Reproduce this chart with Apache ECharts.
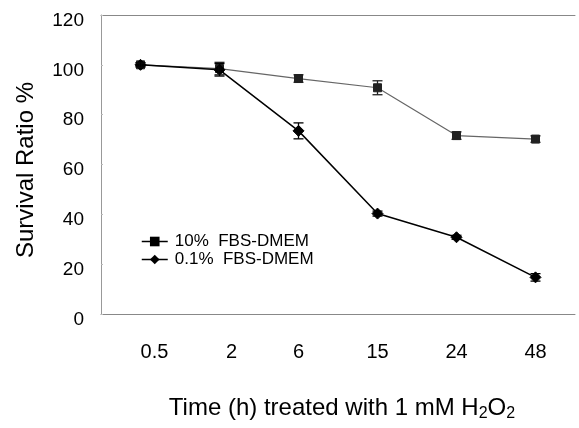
<!DOCTYPE html>
<html>
<head>
<meta charset="utf-8">
<script src="https://cdn.jsdelivr.net/npm/echarts@6/dist/echarts.min.js"></script>
<style>html,body{margin:0;padding:0;background:#fff}#c{width:579px;height:428px}</style>
</head>
<body>
<div id="c"></div>
<script>
const categories = ['0.5', '2', '6', '15', '24', '48'];
const yTicks = [0, 20, 40, 60, 80, 100, 120];
const seriesNames = ['10%  FBS-DMEM', '0.1%  FBS-DMEM'];
const fbs10 = [100, 98.5, 94.5, 90.8, 71.6, 70.2];
const fbs10Err = [0.8, 2.5, 1.5, 2.8, 1.5, 1.3];
const fbs01 = [100, 98, 73.5, 40.3, 30.8, 14.7];
const fbs01Err = [0.8, 2.5, 3.2, 1.0, 0.8, 1.5];
const xTitle = 'Time (h) treated with 1 mM H{sub|2}O{sub|2}';
const yTitle = 'Survival Ratio %';

const chart = echarts.init(document.getElementById('c'), null, {renderer: 'canvas'});
const FONT = 'Liberation Sans, Arial, sans-serif';

function errSeries(vals, errs, color, z) {
  return {
    type: 'custom',
    silent: true,
    z: z,
    data: vals.map((v, i) => [i, v - errs[i], v + errs[i]]),
    renderItem: function (params, api) {
      const x = api.value(0);
      const lo = api.coord([x, api.value(1)]);
      const hi = api.coord([x, api.value(2)]);
      const hw = 5;
      const st = {stroke: color, lineWidth: 1.3};
      return {
        type: 'group',
        children: [
          {type: 'line', shape: {x1: lo[0], y1: lo[1], x2: hi[0], y2: hi[1]}, style: st},
          {type: 'line', shape: {x1: lo[0] - hw, y1: lo[1], x2: lo[0] + hw, y2: lo[1]}, style: st},
          {type: 'line', shape: {x1: hi[0] - hw, y1: hi[1], x2: hi[0] + hw, y2: hi[1]}, style: st}
        ]
      };
    }
  };
}

chart.setOption({
  animation: false,
  backgroundColor: '#fff',
  textStyle: {fontFamily: FONT},
  grid: {left: 101, right: 4, top: 15, bottom: 114},
  legend: {
    orient: 'vertical',
    left: 136,
    top: 228,
    itemGap: 1,
    itemWidth: 26,
    itemHeight: 12,
    textStyle: {fontFamily: FONT, fontSize: 17, color: '#000', padding: [0, 0, 0, 2]},
    data: [
      {name: seriesNames[0], itemStyle: {color: '#000', borderColor: '#000'}, lineStyle: {color: '#000', width: 1.5}},
      {name: seriesNames[1], itemStyle: {color: '#000', borderColor: '#000'}, lineStyle: {color: '#000', width: 1.5}}
    ]
  },
  graphic: [
    {
      type: 'text',
      x: 26, y: 170,
      rotation: Math.PI / 2,
      style: {text: yTitle, font: '24px ' + FONT, fill: '#000', align: 'center', verticalAlign: 'middle'}
    },
    {
      type: 'text',
      x: 342, y: 408,
      style: {
        text: xTitle, fill: '#000', align: 'center', verticalAlign: 'middle',
        fontFamily: FONT, fontSize: 24,
        rich: {sub: {fontFamily: FONT, fontSize: 16, fill: '#000', padding: [11, 0, 0, 0]}}
      }
    }
  ],
  xAxis: [{
    type: 'category',
    data: categories,
    boundaryGap: true,
    axisLine: {lineStyle: {color: '#888', width: 1}},
    axisTick: {show: false},
    axisLabel: {
      fontFamily: FONT, fontSize: 20, color: '#000', margin: 28,
      formatter: (v, i) => i === 0 ? '{a|' + v + '}' : (i === 1 ? '{b|' + v + '}' : v),
      rich: {
        a: {fontFamily: FONT, fontSize: 20, color: '#000', padding: [0, 0, 0, 28]},
        b: {fontFamily: FONT, fontSize: 20, color: '#000', padding: [0, 0, 0, 24]}
      }
    }
  }, {
    type: 'category',
    data: categories,
    position: 'top',
    axisLine: {show: true, lineStyle: {color: '#888', width: 1}},
    axisTick: {show: false},
    axisLabel: {show: false}
  }],
  yAxis: {
    type: 'value',
    min: 0,
    max: 120,
    interval: 20,
    axisLine: {show: true, lineStyle: {color: '#999', width: 1}},
    axisTick: {show: true, inside: true, length: 2, lineStyle: {color: '#bbb'}},
    splitLine: {show: false},
    axisLabel: {fontFamily: FONT, fontSize: 19, color: '#000', margin: 17,
      formatter: v => yTicks.includes(v) ? '{v|' + v + '}' : '',
      rich: {v: {fontFamily: FONT, fontSize: 19, color: '#000', padding: [11, 0, 0, 0]}}
    }
  },
  series: [
    {
      name: seriesNames[0],
      type: 'line',
      data: fbs10,
      symbol: 'rect',
      symbolSize: 8,
      z: 3,
      lineStyle: {color: '#666', width: 1.2},
      itemStyle: {color: '#222', borderColor: '#222'},
      emphasis: {disabled: true}
    },
    {
      name: seriesNames[1],
      type: 'line',
      data: fbs01,
      symbol: 'diamond',
      symbolSize: 11,
      z: 4,
      lineStyle: {color: '#000', width: 1.5},
      itemStyle: {color: '#000', borderColor: '#000'},
      emphasis: {disabled: true}
    },
    errSeries(fbs10, fbs10Err, '#222', 5),
    errSeries(fbs01, fbs01Err, '#000', 6)
  ]
});
</script>
</body>
</html>
